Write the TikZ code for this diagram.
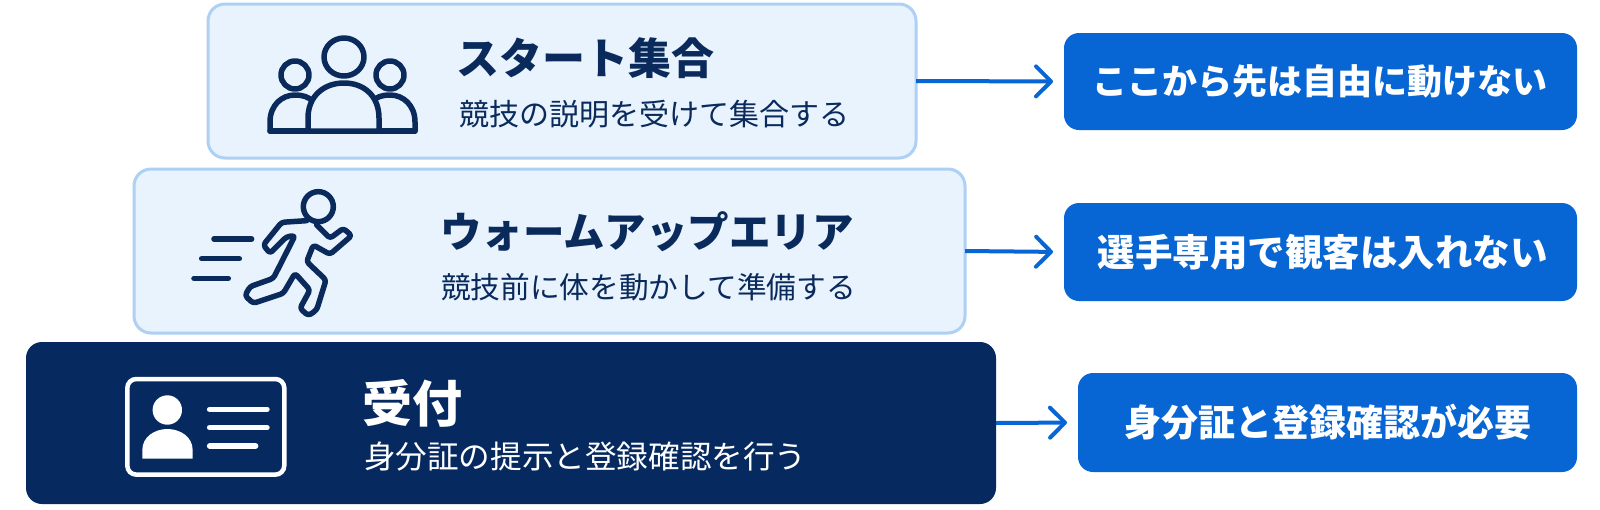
\documentclass[tikz,border=0pt]{standalone}
\usepackage{fontspec}
\setmainfont{Noto Sans CJK JP}
\usetikzlibrary{arrows.meta}
\definecolor{lightfill}{HTML}{E8F3FD}
\definecolor{lightedge}{HTML}{ADD0F4}
\definecolor{navy}{HTML}{062A60}
\definecolor{inktext}{HTML}{0A2A5C}
\definecolor{brightblue}{HTML}{0866D4}
\tikzset{
  x=1pt,y=-1pt,
  every node/.style={inner sep=0pt,outer sep=0pt},
  lightbox/.style={draw=lightedge,fill=lightfill,line width=3pt,rounded corners=17pt},
  darkbox/.style={fill=navy,rounded corners=16pt},
  notebox/.style={fill=brightblue,rounded corners=15pt,text=white,font=\bfseries},
  link/.style={draw=brightblue,line width=4pt,-{Straight Barb[length=15pt,width=30pt,line width=4pt,round]}},
  titletext/.style={anchor=west,font=\bfseries},
  subtext/.style={anchor=west},
  iconline/.style={draw=inktext,line width=5.5pt,line cap=round,line join=round},
}
\newcommand{\fs}[1]{\fontsize{#1}{#1}\selectfont}
\begin{document}
\begin{tikzpicture}
\useasboundingbox (0,0) rectangle (1600,509);
\fill[white] (0,0) rectangle (1600,509);

% layer boxes
\node[lightbox,minimum width=708pt,minimum height=154pt] (b1) at (562,81) {};
\node[lightbox,minimum width=831pt,minimum height=164pt] (b2) at (549.5,251) {};
\node[darkbox,minimum width=970pt,minimum height=162pt] (b3) at (511,423) {};

% note boxes
\node[notebox,minimum width=513pt,minimum height=97pt] (n1) at (1320.5,81.5) {\fs{35}\hspace{-2pt}ここから先は自由に動けない};
\node[notebox,minimum width=513pt,minimum height=98pt] (n2) at (1320.5,252) {\fs{37.5}\hspace{4pt}選手専用で観客は入れない};
\node[notebox,minimum width=499pt,minimum height=99pt] (n3) at (1327.5,422.5) {\fs{37}身分証と登録確認が必要};

% connectors
\draw[link,shorten >=11pt] (b1.east) -- (n1.west);
\draw[link,shorten >=11pt] (b2.east) -- (n2.west);
\draw[link,shorten >=11pt] (b3.east) -- (n3.west);

% texts
\node[titletext,text=inktext] (t1) at (456,58) {\fs{43}スタート集合};
\node[subtext,text=inktext] (s1) at (459,114) {\fs{30}競技の説明を受けて集合する};
\node[titletext,text=inktext] (t2) at (440,232) {\fs{41.5}ウォームアップエリア};
\node[subtext,text=inktext] (s2) at (441,287) {\fs{29.7}競技前に体を動かして準備する};
\node[titletext,text=white] (t3) at (362,403) {\fs{50}受付};
\node[subtext,text=white] (s3) at (364,457) {\fs{31.6}身分証の提示と登録確認を行う};

% people icon
\draw[iconline] (295,75) ellipse (14pt and 14pt);
\draw[iconline] (390,75) ellipse (14pt and 14pt);
\draw[iconline] (270,131) -- (270,122) .. controls (270,105) and (282,95) .. (295,95) .. controls (303,95) and (308,97) .. (313,101);
\draw[iconline] (415,131) -- (415,122) .. controls (415,105) and (403,95) .. (390,95) .. controls (382,95) and (377,97) .. (372,101);
\draw[iconline] (270,131) -- (415,131);
\draw[iconline] (344,57) ellipse (20pt and 19pt);
\draw[iconline,fill=lightfill] (308,131) -- (308,118) .. controls (308,96) and (324,83) .. (344,83) .. controls (364,83) and (379,96) .. (379,118) -- (379,131) -- cycle;

% runner icon
\begin{scope}[shift={(130,165)},x=0.3333pt,y=-0.3333pt]
  \draw[iconline] (565,125) circle (15pt);
  \draw[iconline,rounded corners=3pt] (530,167) -- (455,172) -- (400,240) -- (420,265) -- (470,215) -- (495,212) -- (430,340) -- (360,365) -- (345,392) -- (370,415) -- (460,385) -- (495,325) -- (540,375) -- (510,430) -- (535,452) -- (560,435) -- (588,345) -- (530,290) -- (550,240) -- (600,268) -- (665,212) -- (640,190) -- (600,220) -- (560,180);
  \draw[iconline] (252,222) -- (365,222);
  \draw[iconline] (215,281) -- (328,281);
  \draw[iconline] (192,340) -- (295,340);
\end{scope}

% id card icon
\begin{scope}[shift={(20,335)},x=0.3333pt,y=-0.3333pt]
  \draw[white,line width=4.5pt,rounded corners=9pt] (322,132) rectangle (793,419);
  \fill[white] (442,225) circle (14.7pt);
  \fill[white] (367,371) -- (367,345) .. controls (367,305) and (405,282) .. (442,282) .. controls (480,282) and (518,305) .. (518,345) -- (518,371) -- cycle;
  \draw[white,line width=5.5pt,line cap=round] (569,223) -- (741,223);
  \draw[white,line width=5.5pt,line cap=round] (569,278) -- (741,278);
  \draw[white,line width=5.5pt,line cap=round] (569,333) -- (707,333);
\end{scope}
\end{tikzpicture}
\end{document}
